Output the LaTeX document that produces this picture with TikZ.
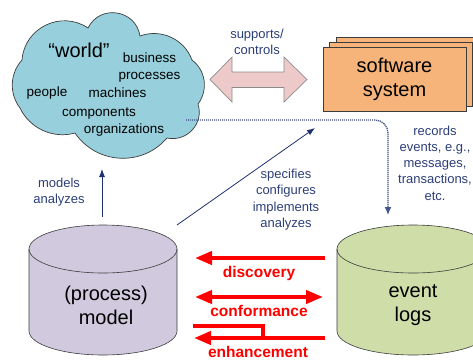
\documentclass[tikz,border=0pt]{standalone}
\usepackage{fontspec}
\setmainfont{Liberation Sans}
\usetikzlibrary{arrows.meta,shadows}

\definecolor{cloudblue}{RGB}{151,208,220}
\definecolor{swfill}{RGB}{246,180,122}
\definecolor{pinkfill}{RGB}{237,201,201}
\definecolor{pinkedge}{RGB}{140,140,140}
\definecolor{modelfill}{RGB}{209,201,222}
\definecolor{logfill}{RGB}{207,221,169}
\definecolor{navytext}{RGB}{44,62,122}
\definecolor{navyline}{RGB}{30,48,110}
\definecolor{dotline}{RGB}{70,85,140}
\definecolor{edge}{RGB}{60,60,60}

\tikzset{
  bigtext/.style={font=\fontsize{20}{24}\selectfont, align=center, inner sep=0pt},
  cloudword/.style={font=\fontsize{13.5}{16}\selectfont, anchor=base, inner sep=0pt},
  note/.style={font=\fontsize{13}{16.3}\selectfont, text=navytext, align=center, inner sep=0pt},
  redlabel/.style={font=\bfseries\fontsize{15.5}{18}\selectfont, text=red, anchor=base, inner sep=0pt},
  navyarrow/.style={draw=navyline, line width=0.8pt, -{Latex[length=8pt,width=6pt]}},
  redline/.style={draw=red, line width=4pt},
  redtip/.style={-{Triangle[length=17pt,width=13pt]}},
  swbox/.style={draw=edge, line width=0.6pt, fill=swfill, minimum width=143pt, minimum height=64pt,
    inner sep=0pt, double copy shadow={shadow xshift=6.7pt, shadow yshift=5pt}},
  cylbody/.style={draw=edge, line width=0.6pt},
}

\begin{document}
\begin{tikzpicture}[x=1pt,y=1pt]
\useasboundingbox (0,0) rectangle (473,-360);
\clip (0,0) rectangle (473,-360);

% the "world" cloud, one arc per puff
\filldraw[fill=cloudblue, draw=edge, line width=0.7pt]
  (22,-60) to[out=85.9,in=145.9,looseness=1.13] (88,-28)
  to[out=63.8,in=98.8,looseness=1.31] (140,-36)
  to[out=20,in=110,looseness=1.0] (192,-60)
  to[out=-37,in=53,looseness=1.0] (198,-104)
  to[out=-72,in=-12,looseness=1.13] (167,-138)
  to[out=229.4,in=304.4,looseness=1.06] (75,-133)
  to[out=195.6,in=295.6,looseness=0.96] (20,-108)
  to[out=127.6,in=227.6,looseness=0.96] (22,-60) -- cycle;
\node[font=\fontsize{20}{24}\selectfont, anchor=base, inner sep=0pt] (world) at (79,-57) {“world”};
\node[cloudword] (bus)  at (149.5,-62) {business};
\node[cloudword] (proc) at (149.5,-79) {processes};
\node[cloudword] (peo)  at (47,-96)    {people};
\node[cloudword] (mach) at (117.5,-97) {machines};
\node[cloudword] (comp) at (99,-116)   {components};
\node[cloudword] (org)  at (124,-133)  {organizations};

% software system
\node[swbox, bigtext] (sw) at (394.5,-79) {software\\system};

% supports/controls double arrow
\filldraw[fill=pinkfill, draw=pinkedge, line width=0.7pt]
  (210,-79.5) -- (232,-57) -- (232,-72) -- (284,-72) -- (284,-57) -- (307,-79.5)
  -- (284,-102) -- (284,-87.5) -- (232,-87.5) -- (232,-102) -- cycle;
\node[note] (supp) at (257,-42) {supports/\\controls};

% process model cylinder
\filldraw[cylbody, fill=modelfill]
  (29,-249) -- (29,-331) arc[start angle=180,end angle=360,x radius=74pt,y radius=24pt]
  -- (177,-249) arc[start angle=0,end angle=180,x radius=74pt,y radius=24pt] -- cycle;
\draw[cylbody] (29,-249) arc[start angle=180,end angle=360,x radius=74pt,y radius=24pt];
\node[bigtext] (model) at (106,-305) {(process)\\model};

% event logs cylinder
\filldraw[cylbody, fill=logfill]
  (337,-249) -- (337,-331) arc[start angle=180,end angle=360,x radius=76pt,y radius=24pt]
  -- (489,-249) arc[start angle=0,end angle=180,x radius=76pt,y radius=24pt] -- cycle;
\draw[cylbody] (337,-249) arc[start angle=180,end angle=360,x radius=76pt,y radius=24pt];
\node[bigtext] (logs) at (413,-305) {event\\logs};

% connector end points
\coordinate (worldout) at (186,-120);
\coordinate (recin) at (388,-215);
\coordinate (modeltop) at (102,-217);
\coordinate (worldbot) at (102,-169);
\coordinate (modelrim) at (177,-225);
\coordinate (swin) at (315,-128);

% records
\draw[draw=dotline, line width=1.3pt, dash pattern=on 1.2pt off 0.8pt, rounded corners=13pt,
      -{Latex[length=8pt,width=7pt]}] (worldout) -| (recin);
\node[note] (rec) at (435,-163) {records\\events, e.g.,\\messages,\\transactions,\\etc.};

% models / analyzes
\draw[navyarrow] (modeltop) -- (worldbot);
\node[note] (mod) at (59,-192) {models\\analyzes};

% specifies / configures
\draw[navyarrow] (modelrim) -- (swin);
\node[note] (spec) at (286,-199.5) {specifies\\configures\\implements\\analyzes};

% discovery, conformance, enhancement
\coordinate (discR) at (325,-258);
\coordinate (discL) at (195,-258);
\coordinate (confL) at (195,-297);
\coordinate (confR) at (323,-297);
\coordinate (enhR) at (325,-338);
\coordinate (enhL) at (194,-338);
\coordinate (enhA) at (193,-326);
\coordinate (enhB) at (263,-326);
\coordinate (enhC) at (263,-338);

\draw[redline, redtip] (discR) -- (discL);
\node[redlabel] (disc) at (259,-277) {discovery};
\draw[redline, {Triangle[length=17pt,width=13pt]}-{Triangle[length=17pt,width=13pt]}] (confL) -- (confR);
\node[redlabel] (conf) at (259,-316) {conformance};
\draw[redline, line cap=butt] (enhA) -- (enhB) -- (enhC);
\draw[redline, redtip] (enhR) -- (enhL);
\node[redlabel] (enh) at (258,-357) {enhancement};
\end{tikzpicture}
\end{document}
